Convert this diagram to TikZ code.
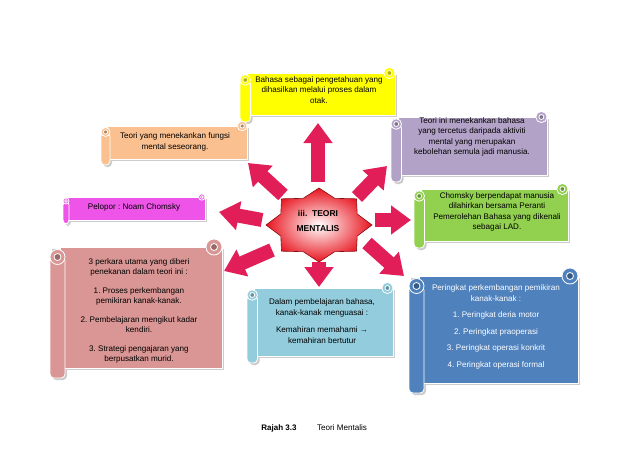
\documentclass[tikz,border=0pt]{standalone}
\usepackage{fontspec}
\setmainfont{Liberation Sans}
\usetikzlibrary{arrows.meta}
\frenchspacing
\definecolor{panah}{RGB}{226,30,88}
\definecolor{kuning}{RGB}{255,255,0}
\definecolor{oren}{RGB}{250,192,144}
\definecolor{ungu}{RGB}{179,162,199}
\definecolor{magentaterang}{RGB}{238,84,232}
\definecolor{hijau}{RGB}{146,208,80}
\definecolor{merahjambu}{RGB}{217,150,148}
\definecolor{birumuda}{RGB}{147,205,221}
\definecolor{biru}{RGB}{79,129,189}
\definecolor{bintang}{RGB}{232,20,30}
\tikzset{
	panahbesar/.style={draw=panah, line width=14pt, -{Triangle[length=20pt,width=28pt]}},
	teks/.style={align=center, font=\fontsize{8.1}{10.5}\selectfont},
	gulungan/.style={draw=white, line width=0.8pt},
}
% scroll: x0, y0, x1, y1, r, colour
\newcommand\gulung[6]{%
	\fill[black!20] ({#1+2},{#2+#5+2}) rectangle ({#3+2},{#4-#5+2});
	\fill[black!20,rounded corners=4pt] ({#1+2},{#2+2*#5+2}) rectangle ({#1+1.5*#5+2},{#4+2});
	\filldraw[gulungan,fill=#6] ({#1+#5},{#2+#5}) rectangle (#3,{#4-#5});
	\filldraw[gulungan,fill=#6] ({#3-0.8*#5},{#2+#5}) circle [radius=0.8*#5];
	\filldraw[gulungan,fill=#6!70!black] ({#3-0.8*#5},{#2+#5}) circle [radius=0.35*#5];
	\filldraw[gulungan,fill=#6,rounded corners=4pt] (#1,{#2+2*#5}) rectangle ({#1+1.5*#5},#4);
	\filldraw[gulungan,fill=#6] ({#1+0.75*#5},{#2+2*#5}) circle [radius=0.75*#5];
	\filldraw[gulungan,fill=#6!70!black] ({#1+0.75*#5},{#2+2*#5}) circle [radius=0.35*#5];
}
\begin{document}
\begin{tikzpicture}[x=1pt,y=-1pt]
	\useasboundingbox[fill=white] (0,0) rectangle (638,452);
	% scrolls
	\gulung{240}{66}{395}{122}{7}{kuning}
	\gulung{101}{120}{247}{165}{6}{oren}
	\gulung{391}{110}{547}{182}{7}{ungu}
	\gulung{63}{193}{205}{224}{4}{magentaterang}
	\gulung{414}{182}{568}{248}{7}{hijau}
	\gulung{50}{237}{222}{378}{10}{merahjambu}
	\gulung{247}{281}{393}{363}{7}{birumuda}
	\gulung{409}{266}{578}{393}{10}{biru}
	% star
	\begin{scope}[shift={(319,225)},xscale=53,yscale=37]
		\draw[draw=bintang!60!black, line width=0.6pt, inner color=white, outer color=bintang, shading=radial]
			(0:1) \foreach \a in {1,...,15} {-- ({\a*22.5}:{ifthenelse(isodd(\a),0.78,1)})} -- cycle;
	\end{scope}
	\node[teks, font=\fontsize{8.5}{15}\selectfont\bfseries] (teori) at (318,221) {iii.\ \ TEORI\\MENTALIS};
	% arrows
	\coordinate (T1) at (318,182); \coordinate (H1) at (318,123);
	\coordinate (T2) at (283,195); \coordinate (H2) at (248,163);
	\coordinate (T3) at (357,197); \coordinate (H3) at (387,166);
	\coordinate (T4) at (262,220); \coordinate (H4) at (219,212);
	\coordinate (T5) at (375,220); \coordinate (H5) at (411,220);
	\coordinate (T6) at (272,250); \coordinate (H6) at (224,271);
	\coordinate (T7) at (319,262); \coordinate (H7) at (319,287);
	\coordinate (T8) at (367,243); \coordinate (H8) at (404,276);
	\foreach \i in {1,...,8} \draw[panahbesar] (T\i) -- (H\i);
	% texts
	\node[teks] (bahasa) at (319,90) {Bahasa sebagai pengetahuan yang\\dihasilkan melalui proses dalam\\otak.};
	\node[teks] (fungsi) at (175,142) {Teori yang menekankan fungsi\\mental seseorang.};
	\node[teks] (aktiviti) at (472,137) {Teori ini menekankan bahasa\\yang tercetus daripada aktiviti\\mental yang merupakan\\kebolehan semula jadi manusia.};
	\node[teks] (pelopor) at (134,207) {Pelopor : Noam Chomsky};
	\node[teks] (lad) at (497,212) {Chomsky berpendapat manusia\\dilahirkan bersama Peranti\\Pemerolehan Bahasa yang dikenali\\sebagai LAD.};
	\node[teks] (perkara) at (139,311) {3 perkara utama yang diberi\\penekanan dalam teori ini :\\[8pt]1. Proses perkembangan\\pemikiran kanak-kanak.\\[8pt]2. Pembelajaran mengikut kadar\\kendiri.\\[8pt]3. Strategi pengajaran yang\\berpusatkan murid.};
	\node[teks] (kemahiran) at (322,321) {Dalam pembelajaran bahasa,\\kanak-kanak menguasai :\\[7pt]Kemahiran memahami →\\kemahiran bertutur};
	\node[teks, text=white] (peringkat) at (496,327) {Peringkat perkembangan pemikiran\\kanak-kanak :\\[6pt]1. Peringkat deria motor\\[6pt]2. Peringkat praoperasi\\[6pt]3. Peringkat operasi konkrit\\[6pt]4. Peringkat operasi formal};
	% caption
	\node[teks, font=\fontsize{8}{10}\selectfont\bfseries] (rajah) at (279,428) {Rajah 3.3};
	\node[teks] (tajuk) at (342,428) {Teori Mentalis};
\end{tikzpicture}
\end{document}
